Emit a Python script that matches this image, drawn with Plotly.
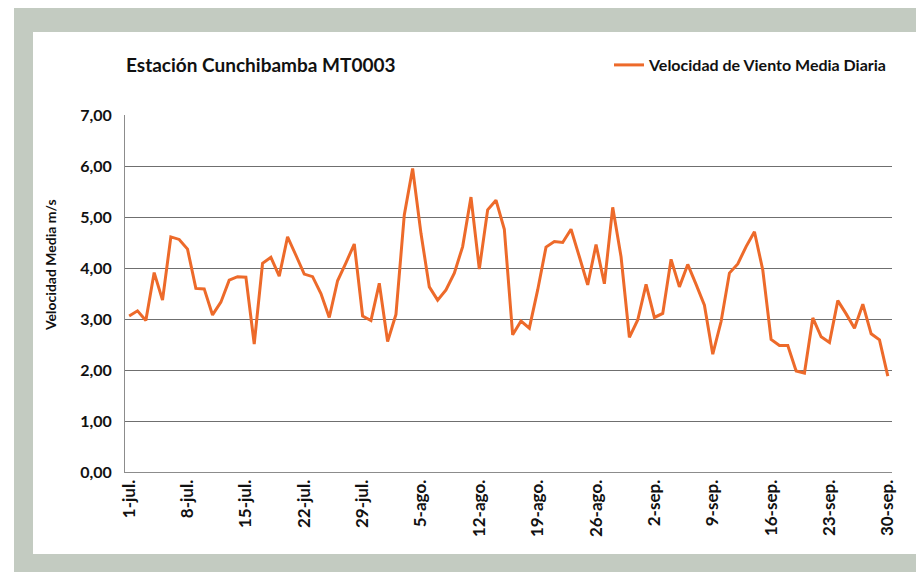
import plotly.graph_objects as go
import pandas as pd

dates = list(pd.date_range("2013-07-01", "2013-09-30", freq="D"))

velocidad = [
    3.06, 3.16, 2.97, 3.91, 3.37, 4.61, 4.56, 4.37, 3.60, 3.59,
    3.08, 3.33, 3.76, 3.83, 3.82, 2.51, 4.09, 4.21, 3.84, 4.61,
    4.25, 3.88, 3.83, 3.50, 3.03, 3.75, 4.10, 4.47, 3.06, 2.97,
    3.70, 2.56, 3.09, 5.04, 5.95, 4.68, 3.63, 3.37, 3.57, 3.90,
    4.42, 5.39, 3.98, 5.14, 5.33, 4.76, 2.69, 2.96, 2.82, 3.57,
    4.41, 4.52, 4.50, 4.76, 4.22, 3.67, 4.46, 3.69, 5.19, 4.22,
    2.64, 2.98, 3.68, 3.03, 3.11, 4.17, 3.63, 4.07, 3.68, 3.27,
    2.31, 2.95, 3.90, 4.08, 4.42, 4.71, 3.96, 2.60, 2.48, 2.48,
    1.98, 1.94, 3.02, 2.65, 2.54, 3.36, 3.10, 2.82, 3.29, 2.71,
    2.59, 1.88,
]

tick_dates = ["2013-07-01", "2013-07-08", "2013-07-15", "2013-07-22", "2013-07-29",
              "2013-08-05", "2013-08-12", "2013-08-19", "2013-08-26", "2013-09-02",
              "2013-09-09", "2013-09-16", "2013-09-23", "2013-09-30"]
tick_labels = ["1-jul.", "8-jul.", "15-jul.", "22-jul.", "29-jul.", "5-ago.", "12-ago.",
               "19-ago.", "26-ago.", "2-sep.", "9-sep.", "16-sep.", "23-sep.", "30-sep."]

y_ticks = [0, 1, 2, 3, 4, 5, 6, 7]

OFF = 8  # page body margin
W, H = 924 - OFF, 573 - OFF
# plot area in page pixels
L, R, T, B = 125, 892, 115, 472


def px(x):
    return (x - L) / (R - L)


def py(y):
    return (B - y) / (B - T)


FONT = "Lato"
ORANGE = "#ED6A2A"

fig = go.Figure()
fig.add_trace(go.Scatter(
    x=dates, y=velocidad, mode="lines",
    line=dict(color=ORANGE, width=3),
    name="<b>Velocidad de Viento Media Diaria</b>",
))

shapes = [
    dict(type="rect", xref="paper", yref="paper", layer="below",
         x0=px(14), x1=px(940), y0=py(572), y1=py(5),
         fillcolor="#C3CBC1", line=dict(width=0)),
    dict(type="rect", xref="paper", yref="paper", layer="below",
         x0=px(33), x1=px(920), y0=py(554), y1=py(32),
         fillcolor="white", line=dict(width=0)),
]

fig.update_layout(
    width=W, height=H,
    margin=dict(l=L - OFF, r=924 - R, t=T - OFF, b=573 - B, pad=0),
    paper_bgcolor="white", plot_bgcolor="white",
    separators=",.",
    shapes=shapes,
    font=dict(family=FONT, color="#000000"),
    title=dict(text="<b>Estación Cunchibamba MT0003</b>", x=px(126), xref="paper",
               xanchor="left", y=1 - (65 - OFF) / H, yanchor="middle",
               font=dict(size=19, family=FONT, color="#111")),
    showlegend=True,
    legend=dict(orientation="h", x=1.0, xanchor="right", y=py(65), yanchor="middle",
                font=dict(size=16, family=FONT, color="#111"),
                bgcolor="rgba(0,0,0,0)", itemwidth=30,
                itemclick=False),
    annotations=[dict(text="<b>Velocidad Media m/s</b>", xref="paper", yref="paper",
                      x=px(50), y=py(265), xanchor="center", yanchor="middle",
                      textangle=-90, showarrow=False,
                      font=dict(size=14, family=FONT, color="#111"))],
)

fig.update_xaxes(
    type="date",
    range=["2013-06-30 12:00", "2013-09-30 12:00"],
    tickvals=tick_dates, ticktext=["<b>%s</b>" % t for t in tick_labels],
    tickangle=-90, tickfont=dict(size=17, family=FONT, color="#111"),
    showgrid=False, showline=True, linecolor="#8c8c8c", linewidth=1,
    ticks="", zeroline=False,
)
fig.update_yaxes(
    range=[0, 7], tickvals=y_ticks,
    ticktext=["<b>%s</b>" % ("%.2f" % v).replace(".", ",") for v in y_ticks],
    tickfont=dict(size=16, family=FONT, color="#111"),
    showgrid=True, gridcolor="#6f6f6f", gridwidth=1,
    showline=True, linecolor="#8c8c8c", linewidth=1,
    ticks="", ticklabelstandoff=9, zeroline=False,
)

fig.write_html("out.html")
